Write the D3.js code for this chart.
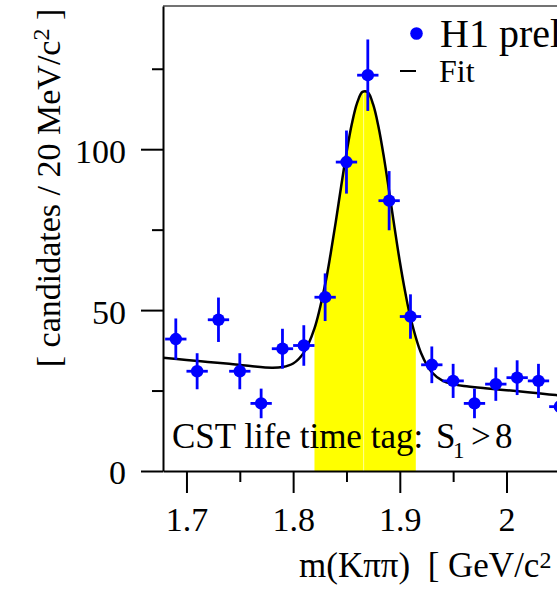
<!DOCTYPE html>
<html>
<head>
<meta charset="utf-8">
<script src="https://cdn.jsdelivr.net/npm/d3@7"></script>
<style>
  body { margin: 0; background: #fff; }
  svg { display: block; }
  text { font-family: "Liberation Serif", "Times New Roman", serif; fill: #000; }
  .axis path, .axis line { stroke: #000; stroke-width: 2; }
  .axis text { font-size: 34px; font-family: "Liberation Serif", "Times New Roman", serif; }
</style>
</head>
<body>
<svg id="chart"></svg>
<script>
// bin centres (GeV/c^2) and counts per 20 MeV
var binCenters = [1.69, 1.71, 1.73, 1.75, 1.77, 1.79, 1.81, 1.83, 1.85, 1.87,
                  1.89, 1.91, 1.93, 1.95, 1.97, 1.99, 2.01, 2.03, 2.05];
var counts = [41, 31, 47, 31, 21, 38, 39, 54, 96, 123,
              84, 48, 33, 28, 21, 27, 29, 28, 20];
var countErrors = [6.4, 5.6, 6.9, 5.6, 4.6, 6.2, 6.3, 7.4, 9.8, 11.1,
                   9.2, 6.9, 5.7, 5.3, 4.6, 5.2, 5.4, 5.3, 4.5];
var binHalfWidth = 0.01;

// fit curve
var fitX = [1.678, 1.70, 1.72, 1.74, 1.76, 1.78, 1.79, 1.80, 1.81, 1.82, 1.83, 1.835, 1.84,
            1.845, 1.85, 1.855, 1.86, 1.865, 1.87, 1.875, 1.88, 1.885, 1.89, 1.895, 1.90,
            1.905, 1.91, 1.92, 1.93, 1.94, 1.95, 1.96, 1.98, 2.00, 2.02, 2.04, 2.06, 2.10];
var fitY = [35.2, 34.5, 33.9, 33.3, 32.6, 32.1, 32.3, 33.4, 36.8, 44.3, 58.0, 67.2, 77.5,
            88.4, 98.8, 107.8, 114.4, 117.8, 117.7, 113.9, 107.0, 97.7, 86.9, 75.8, 65.1,
            55.7, 47.7, 36.6, 30.7, 28.1, 27.0, 26.4, 25.7, 25.1, 24.5, 23.8, 23.2, 21.9];

// signal window shaded under the fit
var signalWindow = [1.82, 1.915];
var peakSplit = 1.8665;

var xTicks = [1.7, 1.8, 1.9, 2.0];
var xTickLabels = ["1.7", "1.8", "1.9", "2"];
var xMinorTicks = [1.75, 1.85, 1.95, 2.05];
var yTicks = [0, 50, 100];
var yTickLabels = ["0", "50", "100"];
var yMinorTicks = [25, 75, 125];

var width = 557, height = 593;
var plotLeft = 163, plotTop = 6, plotBottom = 471;

var svg = d3.select("#chart").attr("width", width).attr("height", height);

var x = d3.scaleLinear().domain([1.678, 2.1]).range([plotLeft, plotLeft + 0.422 * 1066.7]);
var y = d3.scaleLinear().domain([0, 144.5]).range([plotBottom, plotTop]);

var fitData = fitX.map(function(d, i) { return {x: d, y: fitY[i]}; });
var points = binCenters.map(function(d, i) { return {x: d, n: counts[i], e: countErrors[i]}; });

var defs = svg.append("defs");
defs.append("clipPath").attr("id", "plotclip")
  .append("rect").attr("x", plotLeft).attr("y", plotTop)
  .attr("width", width - plotLeft).attr("height", plotBottom - plotTop);

var plot = svg.append("g").attr("clip-path", "url(#plotclip)");

// yellow signal band, two halves like the original
var area = d3.area()
  .x(function(d) { return x(d.x); })
  .y0(y(0))
  .y1(function(d) { return y(d.y); })
  .curve(d3.curveCatmullRom);

var halves = [[signalWindow[0], peakSplit], [peakSplit, signalWindow[1]]];
halves.forEach(function(h, i) {
  var cid = "band" + i;
  defs.append("clipPath").attr("id", cid)
    .append("rect").attr("x", x(h[0])).attr("y", plotTop)
    .attr("width", x(h[1]) - x(h[0]) - (i == 0 ? 0.6 : 0)).attr("height", plotBottom - plotTop);
  plot.append("path")
    .datum(fitData)
    .attr("clip-path", "url(#" + cid + ")")
    .attr("fill", "#ffff00")
    .attr("d", area);
});

// fit line
var line = d3.line()
  .x(function(d) { return x(d.x); })
  .y(function(d) { return y(d.y); })
  .curve(d3.curveCatmullRom);

plot.append("path")
  .datum(fitData)
  .attr("fill", "none")
  .attr("stroke", "#000")
  .attr("stroke-width", 2.5)
  .attr("d", line);

// data points with error bars
var pts = svg.append("g").selectAll("g").data(points).enter().append("g");
pts.append("line")
  .attr("x1", function(d) { return x(d.x); })
  .attr("x2", function(d) { return x(d.x); })
  .attr("y1", function(d) { return y(d.n - d.e); })
  .attr("y2", function(d) { return y(d.n + d.e); })
  .attr("stroke", "#0000ff").attr("stroke-width", 2.8);
pts.append("line")
  .attr("x1", function(d) { return x(d.x - binHalfWidth); })
  .attr("x2", function(d) { return x(d.x + binHalfWidth); })
  .attr("y1", function(d) { return y(d.n); })
  .attr("y2", function(d) { return y(d.n); })
  .attr("stroke", "#0000ff").attr("stroke-width", 2.8);
pts.append("circle")
  .attr("cx", function(d) { return x(d.x); })
  .attr("cy", function(d) { return y(d.n); })
  .attr("r", 6.2)
  .attr("fill", "#0000ff");

// frame top
svg.append("line")
  .attr("x1", plotLeft).attr("x2", width).attr("y1", plotTop).attr("y2", plotTop)
  .attr("stroke", "#444").attr("stroke-width", 1.5);

// axes
svg.append("g").attr("class", "axis").attr("transform", "translate(0," + plotBottom + ")")
  .call(d3.axisBottom(x).tickValues(xTicks).tickSize(22).tickSizeOuter(0).tickPadding(14)
    .tickFormat(function(d, i) { return xTickLabels[i]; }));
svg.append("g").attr("class", "axis").attr("transform", "translate(0," + plotBottom + ")")
  .call(d3.axisBottom(x).tickValues(xMinorTicks).tickSize(11).tickSizeOuter(0).tickFormat(""))
  .select(".domain").remove();

var yAxis = svg.append("g").attr("class", "axis").attr("transform", "translate(" + plotLeft + ",0)")
  .call(d3.axisLeft(y).tickValues(yTicks).tickSize(22).tickSizeOuter(0).tickPadding(15)
    .tickFormat(function(d, i) { return yTickLabels[i]; }));
yAxis.selectAll("text").attr("dy", "0.38em");
svg.append("g").attr("class", "axis").attr("transform", "translate(" + plotLeft + ",0)")
  .call(d3.axisLeft(y).tickValues(yMinorTicks).tickSize(11).tickSizeOuter(0).tickFormat(""))
  .select(".domain").remove();

// axis titles
var yt = svg.append("text")
  .attr("transform", "translate(60,188) rotate(-90)")
  .attr("text-anchor", "middle")
  .style("font-size", "34px")
  .style("white-space", "pre");
yt.append("tspan").text("[ candidates / 20 MeV/c");
yt.append("tspan").attr("dy", -11).style("font-size", "24px").text("2");
yt.append("tspan").attr("dy", 11).text(" ]");

var xt = svg.append("text")
  .attr("x", 299).attr("y", 577)
  .style("font-size", "35px")
  .style("white-space", "pre");
xt.append("tspan").text("m(K\u03c0\u03c0)  [ GeV/c");
xt.append("tspan").attr("dy", -9).style("font-size", "24px").text("2");
xt.append("tspan").attr("dy", 9).text(" ]");

// selection label
var lab = svg.append("text")
  .attr("x", 172).attr("y", 448)
  .style("font-size", "35px");
lab.append("tspan").text("CST life time tag:");
lab.append("tspan").attr("x", 436).text("S");
lab.append("tspan").attr("x", 453).attr("dy", 10).style("font-size", "23px").text("1");
lab.append("tspan").attr("x", 471).attr("dy", -10).text(">");
lab.append("tspan").attr("x", 495).text("8");

// legend
svg.append("circle").attr("cx", 416.5).attr("cy", 33.5).attr("r", 6.3).attr("fill", "#0000ff");
svg.append("text").attr("x", 440).attr("y", 47).style("font-size", "40px").text("H1 preliminary");
svg.append("line").attr("x1", 400).attr("x2", 416).attr("y1", 71).attr("y2", 71)
  .attr("stroke", "#000").attr("stroke-width", 2);
svg.append("text").attr("x", 439).attr("y", 82).style("font-size", "32px").text("Fit");
</script>
</body>
</html>
